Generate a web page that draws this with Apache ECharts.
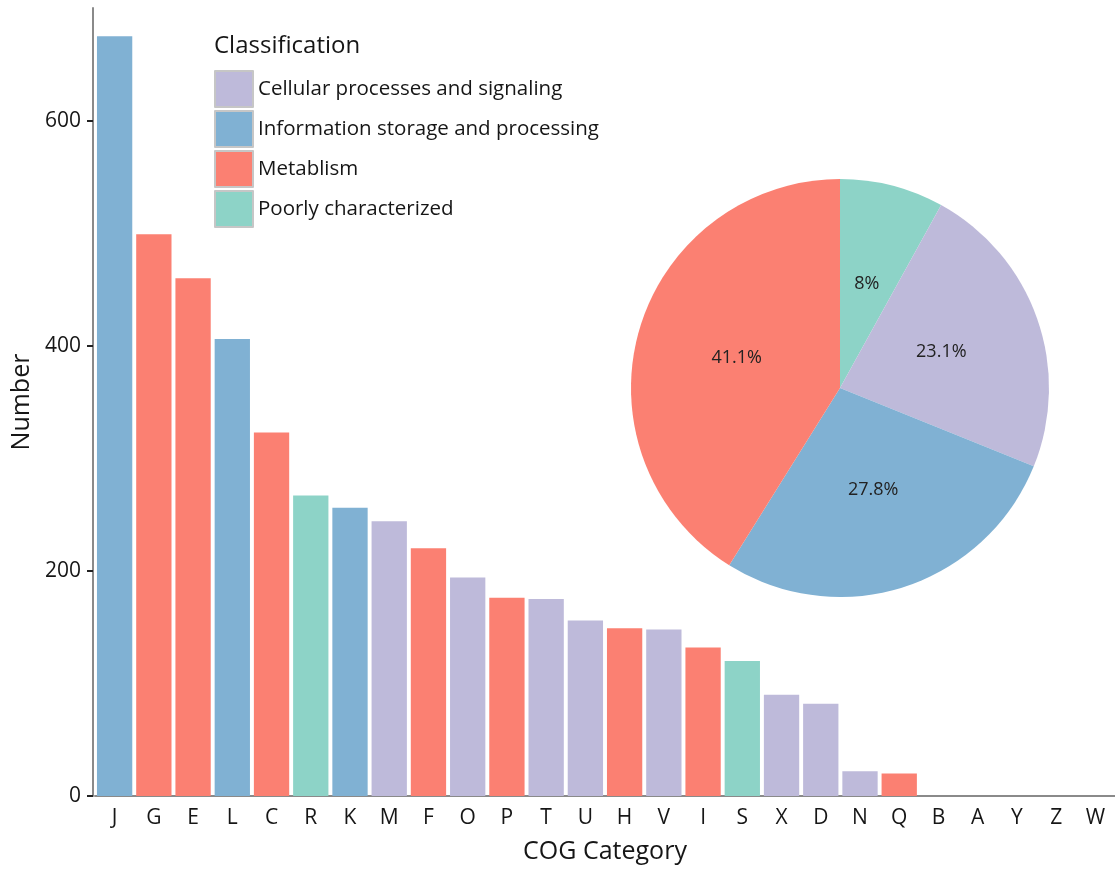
<!DOCTYPE html>
<html>
<head>
<meta charset="utf-8">
<script src="https://cdn.jsdelivr.net/npm/echarts@6/dist/echarts.min.js"></script>
<style>
  html, body { margin: 0; padding: 0; background: #ffffff; }
  #chart { width: 1115px; height: 869px; }
</style>
</head>
<body>
<div id="chart"></div>
<script>
// COG functional categories, sorted by gene count
const categories = ['J','G','E','L','C','R','K','M','F','O','P','T','U','H','V','I','S','X','D','N','Q','B','A','Y','Z','W'];
const counts     = [675,499,460,406,323,267,256,244,220,194,176,175,156,149,148,132,120,90,82,22,20,0,0,0,0,0];
// Classification index of each category (into classNames)
const classOf    = [1,2,2,1,2,3,1,0,2,0,2,0,0,2,0,2,3,0,0,0,2,1,1,0,0,0];

const classNames  = ['Cellular processes and signaling','Information storage and processing','Metablism','Poorly characterized'];
const classColors = ['#BEBADA','#80B1D3','#FB8072','#8DD3C7'];
// Pie drawn clockwise from 12 o'clock in this class order
const pieOrder    = [3,0,1,2];

const yTicks = [0,200,400,600];

const FONT = 'Open Sans';
const TEXT = '#161616';

// Class totals summed from the bar counts
const classTotals = classNames.map((_, k) =>
  counts.reduce((s, v, i) => s + (classOf[i] === k ? v : 0), 0));

const barData = counts.map((v, i) => ({
  value: v,
  itemStyle: { color: classColors[classOf[i]] }
}));

const pieData = pieOrder.map(k => ({
  name: classNames[k],
  value: classTotals[k],
  itemStyle: { color: classColors[k] }
}));

const chart = echarts.init(document.getElementById('chart'), null, { renderer: 'canvas' });

chart.setOption({
  animation: false,
  backgroundColor: '#ffffff',
  textStyle: { fontFamily: FONT },
  title: {
    text: 'Classification',
    left: 209,
    top: 29,
    textStyle: { fontFamily: FONT, fontSize: 24, fontWeight: 'normal', color: TEXT }
  },
  legend: {
    data: classNames,
    orient: 'vertical',
    left: 209,
    top: 65,
    itemWidth: 38,
    itemHeight: 36,
    itemGap: 2,
    icon: 'rect',
    selectedMode: false,
    itemStyle: { borderColor: '#c6c6c6', borderWidth: 2 },
    textStyle: { fontFamily: FONT, fontSize: 20.5, color: TEXT }
  },
  grid: { left: 95, right: 0, top: 8, bottom: 73, containLabel: false },
  xAxis: {
    type: 'category',
    data: categories,
    name: 'COG Category',
    nameLocation: 'middle',
    nameGap: 43,
    nameTextStyle: { fontFamily: FONT, fontSize: 25, color: TEXT },
    axisLine: { lineStyle: { color: '#8a8a8a', width: 2 } },
    axisTick: { show: false },
    axisLabel: { fontFamily: FONT, fontSize: 21, color: TEXT, margin: 12, interval: 0 }
  },
  yAxis: {
    type: 'value',
    min: 0,
    max: 700,
    interval: 100,
    offset: 2,
    name: 'Number',
    nameLocation: 'middle',
    nameGap: 58,
    nameTextStyle: { fontFamily: FONT, fontSize: 25, color: TEXT },
    axisLine: { show: true, lineStyle: { color: '#8a8a8a', width: 2 } },
    axisTick: { show: true, length: 6, customValues: yTicks, lineStyle: { color: '#222', width: 2 } },
    axisLabel: { fontFamily: FONT, fontSize: 21, color: TEXT, margin: 12, customValues: yTicks },
    splitLine: { show: false }
  },
  series: [
    {
      type: 'bar',
      data: barData,
      barWidth: '90%',
      silent: true
    },
    {
      type: 'pie',
      center: [840, 388],
      radius: 209,
      startAngle: 90,
      clockwise: true,
      percentPrecision: 1,
      silent: true,
      data: pieData,
      label: {
        show: true,
        position: 'inside',
        formatter: '{d}%',
        fontFamily: FONT,
        fontSize: 18,
        color: '#222'
      },
      labelLine: { show: false },
      itemStyle: { borderWidth: 0 }
    }
  ]
});
</script>
</body>
</html>
